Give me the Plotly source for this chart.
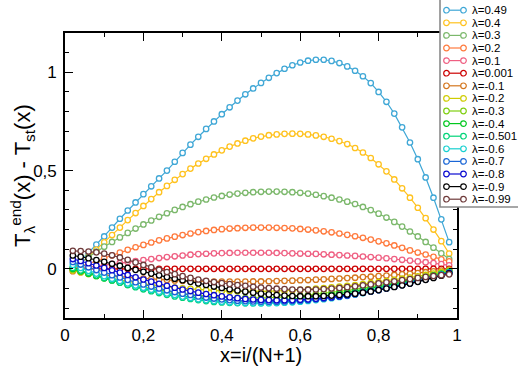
import plotly.graph_objects as go

# ---------------- data ----------------
N = 49
x_vals = [i / (N + 1) for i in range(1, N + 1)]

lambda_labels = ["λ=0.49", "λ=0.4", "λ=0.3", "λ=0.2", "λ=0.1", "λ=0.001", "λ=-0.1", "λ=-0.2",
                 "λ=-0.3", "λ=-0.4", "λ=-0.501", "λ=-0.6", "λ=-0.7", "λ=-0.8", "λ=-0.9", "λ=-0.99"]

colors = ["#3fa7d6", "#ffc21e", "#7bb86b", "#ff7a3d", "#ef5f82", "#cc0000", "#d4761e", "#cfcc00",
          "#7fcf10", "#00c81e", "#00d478", "#18d0d0", "#1a66d6", "#0a0ad0", "#000000", "#6e3a3a"]

y_049 = [0.005, 0.042, 0.083, 0.124, 0.165, 0.21, 0.255, 0.297, 0.338, 0.38,
         0.42, 0.46, 0.50, 0.545, 0.59, 0.632, 0.672, 0.712, 0.75, 0.787,
         0.822, 0.856, 0.888, 0.918, 0.946, 0.972, 0.996, 1.018, 1.036, 1.05,
         1.059, 1.064, 1.064, 1.058, 1.047, 1.03, 1.008, 0.98, 0.945, 0.90,
         0.85, 0.79, 0.72, 0.643, 0.558, 0.465, 0.362, 0.252, 0.136]
y_04 = [0.003, 0.03, 0.062, 0.098, 0.135, 0.172, 0.21, 0.248, 0.284, 0.32,
        0.355, 0.39, 0.422, 0.453, 0.482, 0.51, 0.536, 0.56, 0.582, 0.603,
        0.622, 0.638, 0.652, 0.664, 0.673, 0.68, 0.684, 0.687, 0.688, 0.687,
        0.684, 0.679, 0.672, 0.662, 0.65, 0.635, 0.615, 0.592, 0.564, 0.532,
        0.496, 0.455, 0.41, 0.362, 0.311, 0.258, 0.2, 0.141, 0.078]
y_03 = [0.005, 0.03, 0.06, 0.088, 0.113, 0.137, 0.16, 0.183, 0.205, 0.226,
        0.246, 0.265, 0.283, 0.3, 0.315, 0.329, 0.342, 0.353, 0.363, 0.371,
        0.378, 0.383, 0.387, 0.39, 0.392, 0.393, 0.393, 0.392, 0.39, 0.387,
        0.383, 0.377, 0.37, 0.362, 0.353, 0.342, 0.33, 0.315, 0.299, 0.281,
        0.261, 0.239, 0.215, 0.19, 0.165, 0.137, 0.108, 0.079, 0.05]
y_02 = [0.0, 0.012, 0.026, 0.04, 0.055, 0.069, 0.083, 0.097, 0.11, 0.122,
        0.134, 0.145, 0.155, 0.164, 0.172, 0.18, 0.187, 0.193, 0.198, 0.202,
        0.205, 0.207, 0.209, 0.21, 0.21, 0.21, 0.209, 0.208, 0.206, 0.203,
        0.2, 0.196, 0.191, 0.186, 0.18, 0.173, 0.166, 0.158, 0.149, 0.14,
        0.13, 0.119, 0.107, 0.094, 0.083, 0.073, 0.061, 0.049, 0.038]
y_01 = [0.0, 0.005, 0.01, 0.015, 0.02, 0.025, 0.03, 0.035, 0.04, 0.045,
        0.05, 0.055, 0.06, 0.064, 0.068, 0.072, 0.075, 0.077, 0.079, 0.08,
        0.081, 0.082, 0.082, 0.082, 0.082, 0.082, 0.081, 0.08, 0.079, 0.078,
        0.077, 0.076, 0.074, 0.072, 0.07, 0.068, 0.066, 0.063, 0.06, 0.057,
        0.054, 0.05, 0.046, 0.042, 0.038, 0.034, 0.029, 0.024, 0.018]
y_0001 = [0.0, 0.0, 0.0, 0.0, 0.0, 0.0, 0.0, 0.0, 0.0, 0.0,
          0.0, 0.0, 0.0, 0.0, 0.0, 0.0, 0.0, 0.0, 0.0, 0.0,
          0.0, 0.0, 0.0, 0.0, 0.0, 0.0, 0.0, 0.0, 0.0, 0.0,
          0.0, 0.0, 0.0, 0.0, 0.0, 0.0, 0.0, 0.0, 0.0, 0.0,
          0.0, 0.0, 0.0, 0.0, 0.0, 0.0, 0.0, 0.0, 0.0]
y_m01 = [-0.012, -0.017, -0.022, -0.027, -0.031, -0.035, -0.039, -0.043, -0.046, -0.049,
         -0.052, -0.055, -0.057, -0.059, -0.061, -0.062, -0.063, -0.064, -0.065, -0.065,
         -0.065, -0.065, -0.065, -0.064, -0.064, -0.063, -0.062, -0.061, -0.06, -0.058,
         -0.057, -0.055, -0.053, -0.051, -0.049, -0.047, -0.045, -0.042, -0.04, -0.037,
         -0.034, -0.031, -0.028, -0.025, -0.021, -0.017, -0.013, -0.009, -0.004]
y_m02 = [-0.008, -0.017, -0.026, -0.034, -0.042, -0.05, -0.057, -0.064, -0.07, -0.076,
         -0.081, -0.086, -0.091, -0.095, -0.099, -0.102, -0.105, -0.108, -0.11, -0.112,
         -0.113, -0.114, -0.115, -0.115, -0.115, -0.114, -0.113, -0.111, -0.109, -0.107,
         -0.104, -0.101, -0.098, -0.094, -0.09, -0.086, -0.082, -0.077, -0.072, -0.067,
         -0.062, -0.056, -0.05, -0.044, -0.038, -0.031, -0.024, -0.017, -0.009]
y_m03 = [-0.003, -0.014, -0.025, -0.036, -0.046, -0.056, -0.066, -0.075, -0.084, -0.092,
         -0.1, -0.107, -0.114, -0.12, -0.126, -0.131, -0.135, -0.139, -0.142, -0.145,
         -0.147, -0.148, -0.149, -0.149, -0.148, -0.147, -0.145, -0.143, -0.14, -0.137,
         -0.133, -0.129, -0.125, -0.12, -0.115, -0.11, -0.104, -0.098, -0.092, -0.085,
         -0.078, -0.071, -0.064, -0.056, -0.048, -0.04, -0.032, -0.023, -0.013]
y_m04 = [0.0, -0.012, -0.024, -0.036, -0.048, -0.059, -0.07, -0.081, -0.091, -0.1,
         -0.109, -0.117, -0.125, -0.132, -0.138, -0.144, -0.149, -0.153, -0.157, -0.16,
         -0.162, -0.163, -0.164, -0.164, -0.163, -0.162, -0.16, -0.157, -0.154, -0.15,
         -0.146, -0.142, -0.137, -0.132, -0.126, -0.12, -0.114, -0.107, -0.1, -0.093,
         -0.085, -0.077, -0.069, -0.061, -0.052, -0.043, -0.034, -0.025, -0.015]
y_m0501 = [0.005, -0.008, -0.02, -0.033, -0.046, -0.058, -0.07, -0.082, -0.093, -0.104,
           -0.114, -0.123, -0.132, -0.14, -0.147, -0.153, -0.159, -0.164, -0.168, -0.171,
           -0.173, -0.174, -0.175, -0.175, -0.174, -0.173, -0.171, -0.168, -0.165, -0.161,
           -0.157, -0.152, -0.147, -0.141, -0.135, -0.129, -0.122, -0.115, -0.108, -0.1,
           -0.092, -0.084, -0.075, -0.066, -0.057, -0.047, -0.037, -0.027, -0.016]
y_m06 = [0.02, 0.005, -0.01, -0.024, -0.037, -0.05, -0.062, -0.074, -0.085, -0.096,
         -0.106, -0.116, -0.125, -0.133, -0.141, -0.148, -0.154, -0.159, -0.163, -0.167,
         -0.17, -0.172, -0.174, -0.175, -0.175, -0.175, -0.174, -0.172, -0.17, -0.167,
         -0.163, -0.159, -0.154, -0.149, -0.143, -0.137, -0.13, -0.123, -0.115, -0.107,
         -0.099, -0.09, -0.081, -0.072, -0.062, -0.052, -0.041, -0.03, -0.019]
y_m07 = [0.035, 0.022, 0.008, -0.006, -0.019, -0.032, -0.044, -0.056, -0.068, -0.079,
         -0.09, -0.1, -0.109, -0.118, -0.126, -0.133, -0.14, -0.146, -0.151, -0.155,
         -0.159, -0.162, -0.164, -0.166, -0.167, -0.167, -0.167, -0.166, -0.164, -0.162,
         -0.159, -0.155, -0.151, -0.146, -0.141, -0.135, -0.129, -0.122, -0.115, -0.107,
         -0.099, -0.091, -0.082, -0.073, -0.063, -0.053, -0.042, -0.031, -0.02]
y_m08 = [0.05, 0.04, 0.029, 0.017, 0.005, -0.007, -0.019, -0.031, -0.043, -0.054,
         -0.065, -0.076, -0.086, -0.096, -0.105, -0.113, -0.121, -0.128, -0.134, -0.14,
         -0.145, -0.149, -0.153, -0.156, -0.158, -0.159, -0.16, -0.16, -0.159, -0.157,
         -0.155, -0.152, -0.148, -0.144, -0.139, -0.134, -0.128, -0.121, -0.114, -0.107,
         -0.099, -0.091, -0.082, -0.073, -0.063, -0.053, -0.043, -0.032, -0.021]
y_m09 = [0.068, 0.062, 0.054, 0.045, 0.036, 0.026, 0.016, 0.005, -0.005, -0.015,
         -0.024, -0.033, -0.042, -0.05, -0.058, -0.066, -0.074, -0.082, -0.09, -0.097,
         -0.104, -0.11, -0.116, -0.121, -0.126, -0.13, -0.133, -0.136, -0.138, -0.139,
         -0.139, -0.139, -0.138, -0.136, -0.133, -0.13, -0.126, -0.121, -0.115, -0.108,
         -0.1, -0.092, -0.084, -0.075, -0.066, -0.056, -0.046, -0.035, -0.024]
y_m099 = [0.092, 0.091, 0.088, 0.084, 0.078, 0.069, 0.058, 0.046, 0.033, 0.02,
          0.008, -0.005, -0.016, -0.027, -0.037, -0.046, -0.054, -0.061, -0.067, -0.072,
          -0.077, -0.082, -0.086, -0.091, -0.095, -0.098, -0.101, -0.103, -0.105, -0.106,
          -0.106, -0.105, -0.103, -0.1, -0.097, -0.093, -0.089, -0.084, -0.079, -0.074,
          -0.068, -0.063, -0.057, -0.052, -0.046, -0.041, -0.036, -0.032, -0.028]

series = [y_049, y_04, y_03, y_02, y_01, y_0001, y_m01, y_m02,
          y_m03, y_m04, y_m0501, y_m06, y_m07, y_m08, y_m09, y_m099]

x_ticks = [0, 0.2, 0.4, 0.6, 0.8, 1]
y_ticks = [0, 0.5, 1]

# ---------------- layout geometry ----------------
W, H = 518, 367
ML, MR, MT, MB = 65, 61, 33, 49
PW, PH = W - ML - MR, H - MT - MB
FONT = "Liberation Sans, Arial, Helvetica, sans-serif"


def fx(px):
    return (px - ML) / PW


def fy(py):
    return (H - MB - py) / PH


fig = go.Figure()
for lab, col, ys in zip(lambda_labels, colors, series):
    fig.add_trace(go.Scatter(
        x=x_vals, y=ys, mode="lines+markers", name=lab, showlegend=False,
        line=dict(color=col, width=1.2),
        marker=dict(symbol="circle", size=5.4, color="white",
                    line=dict(color=col, width=1.3)),
    ))

axis_common = dict(
    showgrid=False, zeroline=False, showline=True, linecolor="black", linewidth=1.6,
    mirror="ticks", ticks="inside", ticklen=8, tickwidth=1.4, tickcolor="black",
    tickfont=dict(family=FONT, size=17, color="black"),
)
fig.update_xaxes(range=[0, 1], tickvals=x_ticks,
                 minor=dict(dtick=0.1, tick0=0, ticks="inside", ticklen=4, tickwidth=1.2,
                            tickcolor="black", showgrid=False),
                 ticklabelstandoff=1,
                 **axis_common)
fig.update_yaxes(range=[-0.25, 1.2], tickvals=y_ticks,
                 minor=dict(dtick=0.1, tick0=0, ticks="inside", ticklen=4, tickwidth=1.2,
                            tickcolor="black", showgrid=False),
                 ticklabelstandoff=3,
                 **axis_common)

shapes = []
annotations = []

# legend box
lg_left, lg_top, lg_right, lg_bottom = 440, -1, 520, 207
shapes.append(dict(type="rect", xref="paper", yref="paper", layer="above",
                   x0=fx(lg_left), x1=fx(lg_right), y0=fy(lg_bottom), y1=fy(lg_top),
                   fillcolor="white", line=dict(color="#8a8a8a", width=1.6)))
row0, drow = 10.2, 12.6
for i, (lab, col) in enumerate(zip(lambda_labels, colors)):
    ry = row0 + i * drow
    shapes.append(dict(type="line", xref="paper", yref="paper", layer="above",
                       x0=fx(446.5), x1=fx(463.5), y0=fy(ry), y1=fy(ry),
                       line=dict(color=col, width=1.2)))
    for cx in (446.5, 463.5):
        shapes.append(dict(type="circle", xref="paper", yref="paper", layer="above",
                           xsizemode="pixel", ysizemode="pixel",
                           xanchor=fx(cx), yanchor=fy(ry),
                           x0=-2.8, x1=2.8, y0=-2.8, y1=2.8,
                           fillcolor="white", line=dict(color=col, width=1.2)))
    annotations.append(dict(xref="paper", yref="paper", x=fx(470), y=fy(ry),
                            xanchor="left", yanchor="middle", showarrow=False,
                            text=lab, font=dict(family=FONT, size=11.5, color="black")))

# axis titles
annotations.append(dict(xref="paper", yref="paper", x=fx(261), y=fy(355),
                        xanchor="center", yanchor="middle", showarrow=False,
                        text="x=i/(N+1)", font=dict(family=FONT, size=20, color="black")))
annotations.append(dict(xref="paper", yref="paper", x=fx(22), y=fy(176),
                        xanchor="center", yanchor="middle", showarrow=False, textangle=-90,
                        text="T<sub>λ</sub><sup>end</sup>(x) - T<sub>st</sub>(x)",
                        font=dict(family=FONT, size=22, color="black")))

fig.update_layout(
    width=W, height=H, autosize=False,
    margin=dict(l=ML, r=MR, t=MT, b=MB, pad=0),
    paper_bgcolor="white", plot_bgcolor="white",
    separators=", ",
    showlegend=False,
    shapes=shapes, annotations=annotations,
    font=dict(family=FONT, color="black"),
)

fig.write_html("out.html", config={"displayModeBar": False},
               post_script="document.body.style.margin='0px';document.body.style.overflow='hidden';")
